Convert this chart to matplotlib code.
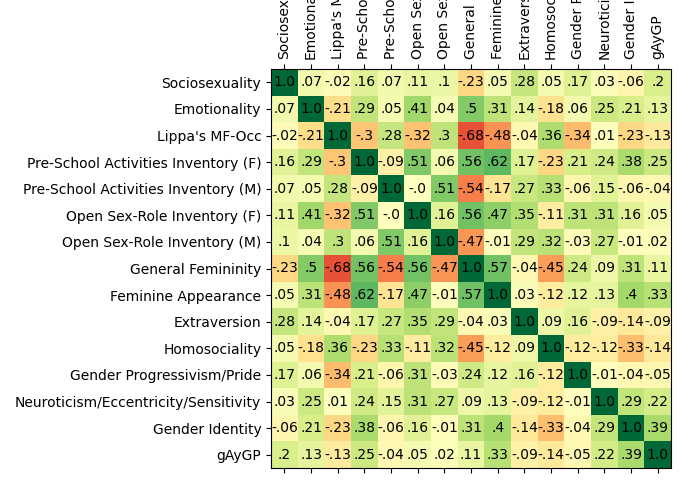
import numpy as np
import matplotlib
matplotlib.use("Agg")
import matplotlib.pyplot as plt

labels = ["Sociosexuality", "Emotionality", "Lippa's MF-Occ",
          "Pre-School Activities Inventory (F)", "Pre-School Activities Inventory (M)",
          "Open Sex-Role Inventory (F)", "Open Sex-Role Inventory (M)",
          "General Femininity", "Feminine Appearance", "Extraversion",
          "Homosociality", "Gender Progressivism/Pride",
          "Neuroticism/Eccentricity/Sensitivity", "Gender Identity", "gAyGP"]

row_socio = [1.0, .07, -.02, .16, .07, .11, .1, -.23, .05, .28, .05, .17, .03, -.06, .2]
row_emot = [.07, 1.0, -.21, .29, .05, .41, .04, .5, .31, .14, -.18, .06, .25, .21, .13]
row_lippa = [-.02, -.21, 1.0, -.3, .28, -.32, .3, -.68, -.48, -.04, .36, -.34, .01, -.23, -.13]
row_psaif = [.16, .29, -.3, 1.0, -.09, .51, .06, .56, .62, .17, -.23, .21, .24, .38, .25]
row_psaim = [.07, .05, .28, -.09, 1.0, -0.0, .51, -.54, -.17, .27, .33, -.06, .15, -.06, -.04]
row_osrif = [.11, .41, -.32, .51, -0.0, 1.0, .16, .56, .47, .35, -.11, .31, .31, .16, .05]
row_osrim = [.1, .04, .3, .06, .51, .16, 1.0, -.47, -.01, .29, .32, -.03, .27, -.01, .02]
row_genfem = [-.23, .5, -.68, .56, -.54, .56, -.47, 1.0, .57, -.04, -.45, .24, .09, .31, .11]
row_femapp = [.05, .31, -.48, .62, -.17, .47, -.01, .57, 1.0, .03, -.12, .12, .13, .4, .33]
row_extra = [.28, .14, -.04, .17, .27, .35, .29, -.04, .03, 1.0, .09, .16, -.09, -.14, -.09]
row_homo = [.05, -.18, .36, -.23, .33, -.11, .32, -.45, -.12, .09, 1.0, -.12, -.12, -.33, -.14]
row_gp = [.17, .06, -.34, .21, -.06, .31, -.03, .24, .12, .16, -.12, 1.0, -.01, -.04, -.05]
row_neuro = [.03, .25, .01, .24, .15, .31, .27, .09, .13, -.09, -.12, -.01, 1.0, .29, .22]
row_gi = [-.06, .21, -.23, .38, -.06, .16, -.01, .31, .4, -.14, -.33, -.04, .29, 1.0, .39]
row_gaygp = [.2, .13, -.13, .25, -.04, .05, .02, .11, .33, -.09, -.14, -.05, .22, .39, 1.0]

corr = np.array([row_socio, row_emot, row_lippa, row_psaif, row_psaim, row_osrif,
                 row_osrim, row_genfem, row_femapp, row_extra, row_homo, row_gp,
                 row_neuro, row_gi, row_gaygp])

fig = plt.figure(figsize=(6.92, 4.83), dpi=100)
ax = fig.add_axes([271/692, 1-468/483, 400/692, 399/483])
ax.imshow(corr, cmap="RdYlGn", vmin=-1, vmax=1, aspect="auto")

n = len(labels)
for i in range(n):
    for j in range(n):
        s = str(round(float(corr[i, j]), 2)).replace("0.", ".")
        ax.text(j, i, s, ha="center", va="center", color="black", fontsize=10)

ax.set_xticks(range(n))
ax.set_yticks(range(n))
ax.set_yticklabels(labels, fontsize=10)
ax.set_xticklabels(labels, fontsize=10, rotation=90)
ax.tick_params(axis="x", top=True, bottom=True, labeltop=True, labelbottom=False)

fig.savefig("out.png", dpi=100)
